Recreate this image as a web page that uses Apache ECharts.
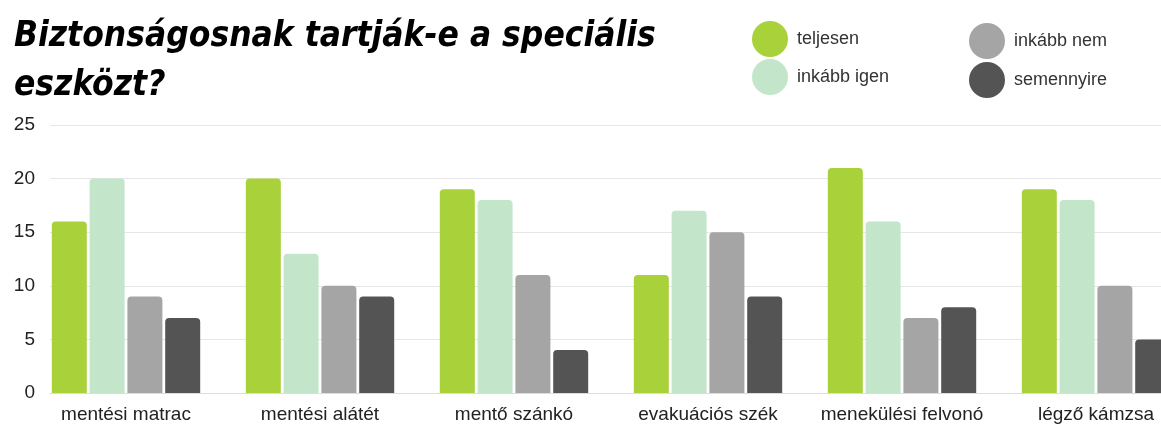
<!DOCTYPE html>
<html>
<head>
<meta charset="utf-8">
<script src="https://cdn.jsdelivr.net/npm/echarts@6/dist/echarts.min.js"></script>
<style>
  html, body { margin: 0; padding: 0; background: #fff; }
  #chart { width: 1161px; height: 425px; }
</style>
</head>
<body>
<div id="chart"></div>
<script>
// kategóriák és sorozatok
const categories = ['mentési matrac', 'mentési alátét', 'mentő szánkó', 'evakuációs szék', 'menekülési felvonó', 'légző kámzsa'];
const seriesNames = ['teljesen', 'inkább igen', 'inkább nem', 'semennyire'];
const teljesen   = [16, 20, 19, 11, 21, 19];
const inkabbIgen = [20, 13, 18, 17, 16, 18];
const inkabbNem  = [9, 10, 11, 15, 7, 10];
const semennyire = [7, 9, 4, 9, 8, 5];
const yTicks = [0, 5, 10, 15, 20, 25];

const colors = ['#a8d13a', '#c3e6cb', '#a5a5a5', '#545454'];
const values = [teljesen, inkabbIgen, inkabbNem, semennyire];
const labelFont = '"Liberation Sans", Arial, sans-serif';

const chart = echarts.init(document.getElementById('chart'));

const series = seriesNames.map((name, i) => ({
    name: name,
    type: 'bar',
    xAxisIndex: 1,
    yAxisIndex: 1,
    data: values[i],
    barWidth: 35,
    barGap: '8%',
    itemStyle: {color: colors[i], borderRadius: [4, 4, 0, 0]},
    emphasis: {disabled: true}
}));

const option = {
    animation: false,
    color: colors,
    title: {
        text: 'Biztonságosnak tartják-e a speciális\neszközt?',
        left: 9,
        top: 7,
        textStyle: {
            fontFamily: '"Liberation Sans Narrow", "DejaVu Sans Condensed", sans-serif',
            fontSize: 35,
            fontWeight: 'bold',
            fontStyle: 'italic',
            color: '#000',
            lineHeight: 49
        }
    },
    legend: [
        {
            data: ['teljesen', 'inkább igen'],
            orient: 'vertical',
            left: 747,
            top: 16,
            icon: 'circle',
            itemWidth: 38,
            itemHeight: 36,
            itemGap: 2,
            textStyle: {fontFamily: labelFont, fontSize: 18, color: '#333', padding: [0, 0, 0, 3]}
        },
        {
            data: ['inkább nem', 'semennyire'],
            orient: 'vertical',
            left: 964,
            top: 18,
            icon: 'circle',
            itemWidth: 38,
            itemHeight: 36,
            itemGap: 3,
            textStyle: {fontFamily: labelFont, fontSize: 18, color: '#333', padding: [0, 0, 0, 3]}
        }
    ],
    grid: [
        {left: 50, right: 0, top: 125, height: 268, outerBoundsMode: 'none'},
        {left: 29, width: 1164, top: 125, height: 268, outerBoundsMode: 'none'}
    ],
    xAxis: [
        {
            gridIndex: 0,
            type: 'category',
            data: categories,
            axisLine: {show: true, lineStyle: {color: '#dcdcdc'}},
            axisTick: {show: false},
            axisLabel: {show: false}
        },
        {
            gridIndex: 1,
            type: 'category',
            data: categories,
            axisLine: {show: false},
            axisTick: {show: false},
            axisLabel: {
                interval: 0,
                hideOverlap: false,
                fontFamily: labelFont,
                fontSize: 19,
                color: '#222',
                margin: 12
            }
        }
    ],
    yAxis: [
        {
            gridIndex: 0,
            type: 'value',
            min: yTicks[0],
            max: yTicks[yTicks.length - 1],
            interval: 5,
            axisLine: {show: false},
            axisTick: {show: false},
            axisLabel: {
                fontFamily: labelFont,
                fontSize: 19,
                color: '#222',
                margin: 15
            },
            splitLine: {lineStyle: {color: '#e6e6e6', width: 1}}
        },
        {
            gridIndex: 1,
            type: 'value',
            min: yTicks[0],
            max: yTicks[yTicks.length - 1],
            interval: 5,
            show: false,
            splitLine: {show: false}
        }
    ],
    series: series
};

chart.setOption(option);
</script>
</body>
</html>
